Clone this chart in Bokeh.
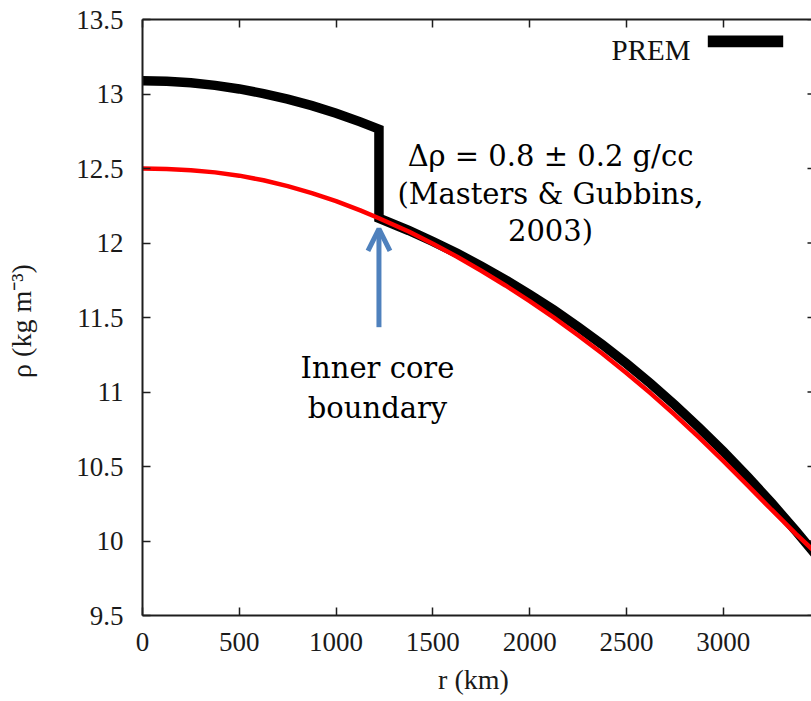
import math

from bokeh.embed import file_html
from bokeh.models import (Arrow, BoxAnnotation, CustomJSTickFormatter, FixedTicker,
                          Label, LinearAxis, OpenHead, PrintfTickFormatter, Range1d)
from bokeh.plotting import figure
from bokeh.resources import INLINE

# ---- data -----------------------------------------------------------------
# Inner-core boundary radius (km)
r_icb = 1221.5

# PREM density, inner core then outer core (density jump at the ICB)
r_prem_inner = [0, 125, 250, 375, 500, 625, 750, 875, 1000, 1125, r_icb]
rho_prem_inner = [13.089, 13.085, 13.075, 13.058, 13.034, 13.003, 12.966, 12.922,
                  12.871, 12.813, 12.764]
r_prem_outer = [r_icb, 1375, 1500, 1625, 1750, 1875, 2000, 2125, 2250, 2375, 2500,
                2625, 2750, 2875, 3000, 3125, 3250, 3375, 3480]
rho_prem_outer = [12.166, 12.084, 12.010, 11.931, 11.845, 11.753, 11.655, 11.550,
                  11.437, 11.318, 11.191, 11.056, 10.913, 10.761, 10.602, 10.433,
                  10.255, 10.068, 9.904]

# Smooth density profile without a jump at the ICB
r_model = [0, 125, 250, 375, 500, 625, 750, 875, 1000, 1125, r_icb, 1375, 1500, 1625,
           1750, 1875, 2000, 2125, 2250, 2375, 2500, 2625, 2750, 2875, 3000, 3125,
           3250, 3375, 3480]
rho_model = [12.500, 12.497, 12.489, 12.474, 12.452, 12.421, 12.382, 12.335, 12.281,
             12.219, 12.166, 12.077, 11.995, 11.908, 11.814, 11.715, 11.610, 11.499,
             11.381, 11.258, 11.128, 10.991, 10.847, 10.695, 10.538, 10.375, 10.210,
             10.048, 9.919]

x_ticks = [0, 500, 1000, 1500, 2000, 2500, 3000]
y_ticks = [9.5, 10, 10.5, 11, 11.5, 12, 12.5, 13, 13.5]

# Arrow marking the ICB (density values at tail and tip)
arrow_tail = 11.435
arrow_tip = 12.095

# ---- layout ---------------------------------------------------------------
W, H = 811, 701
FL, FR, FT, FB = 142, 811, 19, 615
X0, X1 = 0, 3456
Y0, Y1 = 9.5, 13.5


def xd(px):
    """page pixel column -> r (km)"""
    return X0 + (px - FL) * (X1 - X0) / (FR - FL)


def yd(py):
    """page pixel row -> density"""
    return Y1 - (py - FT) * (Y1 - Y0) / (FB - FT)


AXIS_COLOR = "#1e1e1e"
TICK_FONT = "Liberation Serif"
NOTE_FONT = "DejaVu Serif"
ARROW_BLUE = "#4f81bd"

p = figure(width=W, height=H, output_backend="svg", toolbar_location=None,
           x_range=Range1d(X0, X1), y_range=Range1d(Y0, Y1),
           min_border_left=FL, min_border_right=0,
           min_border_top=FT, min_border_bottom=H - FB)
p.grid.visible = False
p.outline_line_color = None
p.background_fill_color = "white"
p.border_fill_color = "white"


def style_axis(ax):
    ax.axis_line_color = AXIS_COLOR
    ax.axis_line_width = 2
    ax.major_tick_line_color = AXIS_COLOR
    ax.major_tick_line_width = 1.5
    ax.major_tick_in = 8
    ax.major_tick_out = 0
    ax.minor_tick_in = 0
    ax.minor_tick_out = 0
    ax.major_label_text_font = TICK_FONT
    ax.major_label_text_font_size = "27px"
    ax.major_label_text_color = "#1a1a1a"
    ax.axis_label_text_font = TICK_FONT
    ax.axis_label_text_font_size = "28px"
    ax.axis_label_text_font_style = "normal"
    ax.axis_label_text_color = "#1a1a1a"


xa = p.xaxis[0]
style_axis(xa)
xa.ticker = FixedTicker(ticks=x_ticks)
xa.major_label_standoff = 17
xa.axis_label = "r  (km)"
xa.axis_label_standoff = 10

ya = p.yaxis[0]
style_axis(ya)
ya.ticker = FixedTicker(ticks=y_ticks)
ya.formatter = PrintfTickFormatter(format="%g")
ya.major_label_standoff = 19
ya.axis_label = "ρ  (kg m⁻³)"
ya.axis_label_standoff = 36

top = LinearAxis(ticker=FixedTicker(ticks=x_ticks),
                 formatter=CustomJSTickFormatter(code="return ''"))
style_axis(top)
top.major_label_text_font_size = "0px"
top.major_label_standoff = 0
p.add_layout(top, "above")

# mirrored ticks on the right edge
p.ray(x=[X1] * len(y_ticks), y=y_ticks, length=4, length_units="screen",
      angle=math.pi, line_color=AXIS_COLOR, line_width=1.5)

# ---- curves ---------------------------------------------------------------
p.line(r_prem_inner + r_prem_outer, rho_prem_inner + rho_prem_outer,
       line_color="black", line_width=9.5, line_join="miter")
p.line(r_model, rho_model, line_color="#ff0000", line_width=4.5)

# ---- legend ---------------------------------------------------------------
p.add_layout(Label(x=xd(690), y=yd(49), text="PREM", text_align="right",
                   text_baseline="alphabetic", text_font=TICK_FONT,
                   text_font_size="29px", text_color="#111111"))
p.add_layout(BoxAnnotation(left=xd(707.3), right=xd(782.7), top=yd(35), bottom=yd(46.7),
                           fill_color="black", fill_alpha=1.0, line_color=None))

# ---- annotations ----------------------------------------------------------
for text, row in [("Δρ = 0.8 ± 0.2 g/cc", 155),
                  ("(Masters & Gubbins,", 193),
                  ("2003)", 230)]:
    p.add_layout(Label(x=xd(550), y=yd(row), text=text, text_align="center",
                       text_baseline="alphabetic", text_font=NOTE_FONT,
                       text_font_size="29px", text_color="black"))

for text, row in [("Inner core", 367), ("boundary", 407)]:
    p.add_layout(Label(x=xd(377), y=yd(row), text=text, text_align="center",
                       text_baseline="alphabetic", text_font=NOTE_FONT,
                       text_font_size="29px", text_color="black"))

p.add_layout(Arrow(x_start=r_icb, y_start=arrow_tail, x_end=r_icb, y_end=arrow_tip,
                   line_color=ARROW_BLUE, line_width=5,
                   end=OpenHead(size=22, line_color=ARROW_BLUE, line_width=5)))

open("out.html", "w").write(file_html(p, INLINE))
